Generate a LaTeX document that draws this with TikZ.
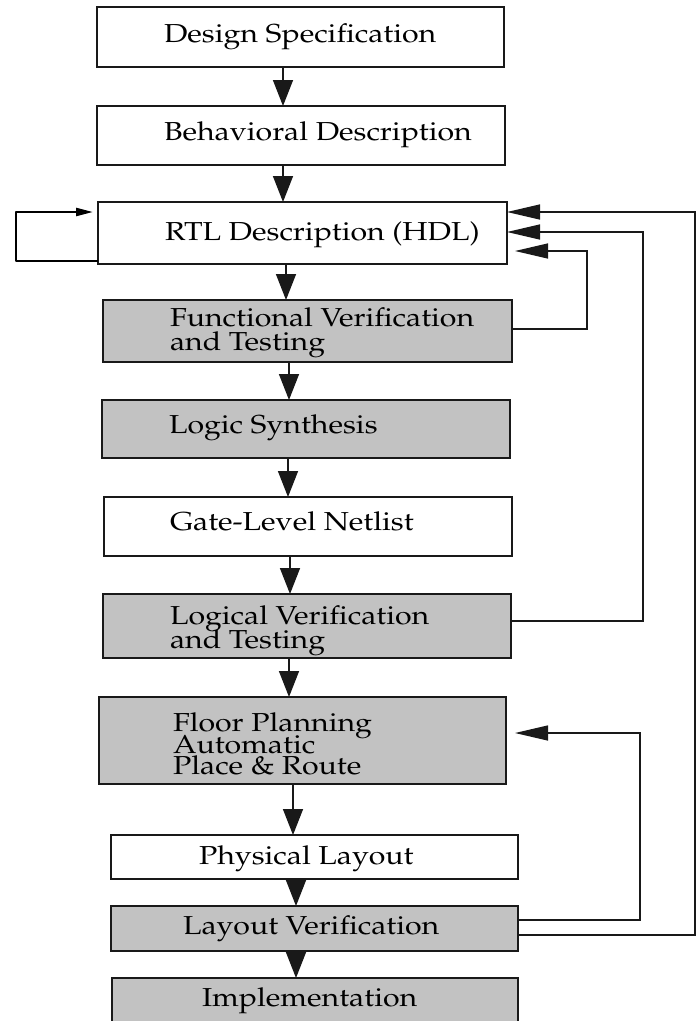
\documentclass[tikz,border=0pt]{standalone}
\usepackage[T1]{fontenc}
\usepackage{mathpazo}
\usetikzlibrary{arrows.meta}
\newcommand{\stretchx}[1]{\scalebox{1.165}[1]{#1}}
\newcommand{\lines}[2]{\vtop{\lineskiplimit=-100pt\baselineskip=#1\relax #2}}
\tikzset{
 box/.style={draw=black!90, line width=1.8pt, inner sep=0pt, outer sep=0pt, fill=white},
 shadedbox/.style={box, fill=black!24},
 lbl/.style={anchor=base west, inner sep=0pt, outer sep=0pt, text=black, font=\fontsize{26}{30}\selectfont},
 varrow/.style={line width=1.5pt, draw=black!90, -{Triangle[length=26pt,width=20pt]}},
 fb/.style={line width=1.3pt, draw=black!90, -{Triangle[length=33pt,width=15pt]}},
 selfl/.style={line width=2.4pt, draw=black, line join=round, -{Triangle[length=17pt,width=8pt]}},
}
\begin{document}
\begin{tikzpicture}[x=1pt,y=-1pt]
\useasboundingbox (0,0) rectangle (696,1021);
% boxes
\node[box, minimum width=407, minimum height=60] (ds) at (300.5,37) {};
\node[box, minimum width=408, minimum height=59] (bd) at (301,135.5) {};
\node[box, minimum width=409, minimum height=62] (rtl) at (302.5,233) {};
\node[shadedbox, minimum width=409, minimum height=62] (fv) at (307.5,331) {};
\node[shadedbox, minimum width=408, minimum height=58] (ls) at (306,429) {};
\node[box, minimum width=408, minimum height=59] (gl) at (308,526.5) {};
\node[shadedbox, minimum width=408, minimum height=64] (lv) at (307,626) {};
\node[shadedbox, minimum width=407, minimum height=87] (fp) at (302.5,740.5) {};
\node[box, minimum width=407, minimum height=44] (pl) at (314.5,857) {};
\node[shadedbox, minimum width=407, minimum height=45] (lyv) at (314.5,928.5) {};
\node[shadedbox, minimum width=406, minimum height=52] (im) at (315,1004) {};
% texts
\node[lbl] (t1) at (164,42) {\stretchx{Design Specification}};
\node[lbl] (t2) at (164,140) {\stretchx{Behavioral Description}};
\node[lbl] (t3) at (165,240) {\stretchx{RTL Description (HDL)}};
\node[lbl] (t4) at (170,326.7) {\stretchx{\lines{24pt}{\hbox{Functional Verification}\hbox{and Testing}}}};
\node[lbl] (t5) at (169,433) {\stretchx{Logic Synthesis}};
\node[lbl] (t6) at (170,530.7) {\stretchx{Gate-Level Netlist}};
\node[lbl] (t7) at (170,624.3) {\stretchx{\lines{24pt}{\hbox{Logical Verification}\hbox{and Testing}}}};
\node[lbl] (t8) at (173,731.7) {\stretchx{\lines{21.5pt}{\hbox{Floor Planning}\hbox{Automatic}\hbox{Place \& Route}}}};
\node[lbl] (t9) at (199,864) {\stretchx{Physical Layout}};
\node[lbl] (t10) at (183,934) {\stretchx{Layout Verification}};
\node[lbl] (t11) at (202,1006.7) {\stretchx{Implementation}};
% x positions of the vertical arrows
\coordinate (a1) at (283,0);
\coordinate (a2) at (283,0);
\coordinate (a3) at (286,0);
\coordinate (a4) at (289,0);
\coordinate (a5) at (288,0);
\coordinate (a6) at (290,0);
\coordinate (a7) at (289,0);
\coordinate (a8) at (293,0);
\coordinate (a9) at (296,0);
\coordinate (a10) at (296,0);
\draw[varrow] (ds.south -| a1) -- (bd.north -| a1);
\draw[varrow] (bd.south -| a2) -- (rtl.north -| a2);
\draw[varrow] (rtl.south -| a3) -- (fv.north -| a3);
\draw[varrow] (fv.south -| a4) -- (ls.north -| a4);
\draw[varrow] (ls.south -| a5) -- (gl.north -| a5);
\draw[varrow] (gl.south -| a6) -- (lv.north -| a6);
\draw[varrow] (lv.south -| a7) -- (fp.north -| a7);
\draw[varrow] (fp.south -| a8) -- (pl.north -| a8);
\draw[varrow] (pl.south -| a9) -- (lyv.north -| a9);
\draw[varrow] (lyv.south -| a10) -- (im.north -| a10);
% feedback loops
\coordinate (k1) at (587,0);
\coordinate (k2) at (643,0);
\coordinate (k3) at (695,0);
\coordinate (k4) at (640,0);
\coordinate (r1) at ([yshift=21pt]rtl.east);
\coordinate (r2) at ([yshift=1pt]rtl.east);
\coordinate (r3) at ([yshift=-18pt]rtl.east);
\draw[fb, shorten >=8pt] ([yshift=2pt]fv.east) -| (k1 |- r3) -- (r3);
\draw[fb] ([yshift=5pt]lv.east) -| (k2 |- r2) -- (r2);
\draw[fb] ([yshift=-6.5pt]lyv.east) -| (k3 |- r1) -- (r1);
\coordinate (f1) at ([yshift=7.5pt]fp.east);
\draw[fb, shorten >=9pt] ([yshift=8.5pt]lyv.east) -| (k4 |- f1) -- (f1);
% self loop on RTL
\coordinate (sl) at (16,0);
\coordinate (q) at ([yshift=21pt]rtl.west);
\draw[selfl, shorten >=5pt] ([yshift=3pt]rtl.south west) -| (sl |- q) -- (q);
\end{tikzpicture}
\end{document}
